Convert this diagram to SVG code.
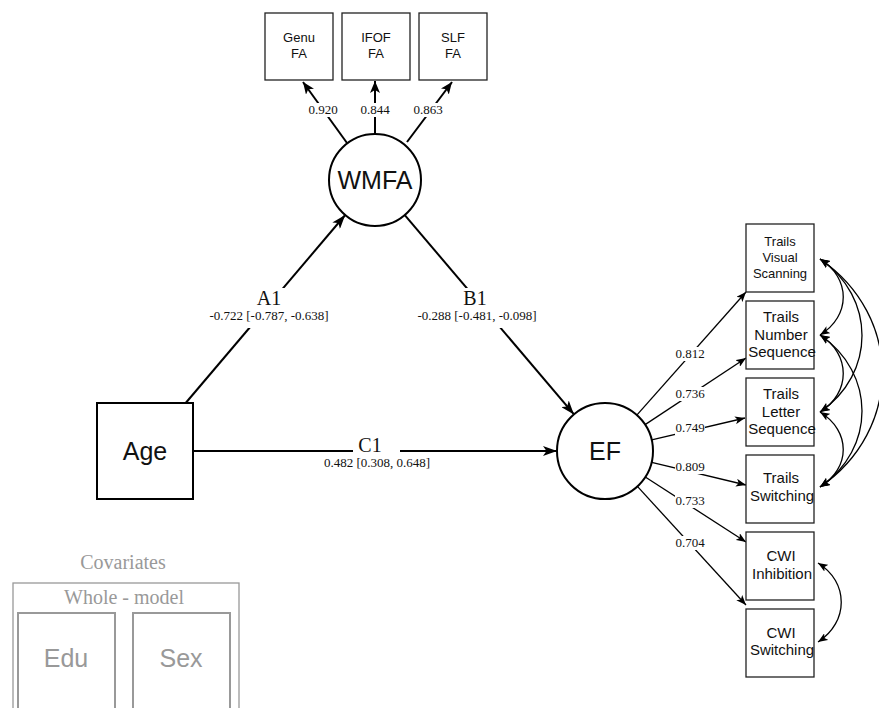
<svg xmlns="http://www.w3.org/2000/svg" width="879" height="708" viewBox="0 0 879 708">
  <style>
    .bg { fill: #fff; }
    .big { fill: #fff; stroke: #000; stroke-width: 2; }
    .obs { fill: #fff; stroke: #222; stroke-width: 1.3; }
    .cov { fill: #fff; stroke: #999; stroke-width: 2; }
    .covframe { fill: none; stroke: #999; stroke-width: 1.3; }
    .sans { font-family: "Liberation Sans", Arial, sans-serif; text-anchor: middle; fill: #111; }
    .serif { font-family: "Liberation Serif", "Times New Roman", serif; text-anchor: middle; fill: #111; }
    .lbl { font-size: 13px; }
    .path { font-size: 20px; }
    .grey { fill: #999; }
    .edge { fill: none; stroke: #000; }
    .main { stroke-width: 2; marker-end: url(#arrowL); }
    .load { stroke-width: 2; marker-end: url(#arrowM); }
    .ind { stroke-width: 1.3; marker-end: url(#arrowS); }
    .cor { stroke-width: 1.3; marker-start: url(#arrowS); marker-end: url(#arrowS); }
    .gap { fill: #fff; }
  </style>
  <defs>
    <marker id="arrowL" markerUnits="userSpaceOnUse" viewBox="0 0 14 10" refX="14" refY="5" markerWidth="14" markerHeight="10" orient="auto-start-reverse">
      <path d="M0,0 L14,5 L0,10 L3.5,5 z" fill="#000"/>
    </marker>
    <marker id="arrowM" markerUnits="userSpaceOnUse" viewBox="0 0 12 10" refX="12" refY="5" markerWidth="12" markerHeight="10" orient="auto-start-reverse">
      <path d="M0,0 L12,5 L0,10 L3,5 z" fill="#000"/>
    </marker>
    <marker id="arrowS" markerUnits="userSpaceOnUse" viewBox="0 0 10 8" refX="10" refY="4" markerWidth="10" markerHeight="8" orient="auto-start-reverse">
      <path d="M0,0 L10,4 L0,8 L2.5,4 z" fill="#000"/>
    </marker>
  </defs>

  <rect class="bg" x="0" y="0" width="879" height="708"/>

  <!-- connectors -->
  <g id="connectors">
    <!-- structural paths -->
    <path class="edge main" d="M185.7,403 L345.2,215"/>
    <path class="edge main" d="M404.8,215.1 L574,414.4"/>
    <path class="edge main" d="M193,451 L557,451"/>
    <!-- WMFA indicators -->
    <path class="edge load" d="M347,143 L303,82"/>
    <path class="edge load" d="M375,134 L375,81"/>
    <path class="edge load" d="M407,142 L452,82"/>
    <!-- EF indicators -->
    <path class="edge ind" d="M636.8,415.1 L746,292"/>
    <path class="edge ind" d="M645.1,424.6 L746,358"/>
    <path class="edge ind" d="M651.7,439.9 L745,418"/>
    <path class="edge ind" d="M651.7,462.3 L746,485"/>
    <path class="edge ind" d="M645.3,477 L746,542"/>
    <path class="edge ind" d="M637.4,486.4 L746,605"/>
    <!-- residual covariances -->
    <path class="edge cor" d="M820,259 C851,278 851,316 820,335"/>
    <path class="edge cor" d="M820,335 C851,354 851,393 820,412"/>
    <path class="edge cor" d="M820,412 C851,431 851,468 820,487"/>
    <path class="edge cor" d="M820,259 C876,297 876,374 820,412"/>
    <path class="edge cor" d="M820,335 C876,373 876,449 820,487"/>
    <path class="edge cor" d="M820,259 C903,316 903,430 820,487"/>
    <path class="edge cor" d="M818,563 C849,582 849,622 818,642"/>
  </g>

  <!-- connector labels -->
  <g id="edge-labels">
    <rect class="gap" x="207" y="288" width="124" height="40"/>
    <text class="serif path" x="269" y="305">A1</text>
    <text class="serif lbl" x="269" y="320">-0.722 [-0.787, -0.638]</text>

    <rect class="gap" x="415" y="288" width="124" height="40"/>
    <text class="serif path" x="475" y="305">B1</text>
    <text class="serif lbl" x="477" y="320">-0.288 [-0.481, -0.098]</text>

    <rect class="gap" x="353" y="443" width="47" height="15"/>
    <text class="serif path" x="370" y="452">C1</text>
    <text class="serif lbl" x="377" y="467">0.482 [0.308, 0.648]</text>

    <rect class="gap" x="308" y="103" width="30" height="14"/>
    <text class="serif lbl" x="323" y="114">0.920</text>
    <rect class="gap" x="360" y="103" width="30" height="14"/>
    <text class="serif lbl" x="375" y="114">0.844</text>
    <rect class="gap" x="413" y="103" width="30" height="14"/>
    <text class="serif lbl" x="428" y="114">0.863</text>

    <rect class="gap" x="675" y="347" width="30" height="14"/>
    <text class="serif lbl" x="690" y="358">0.812</text>
    <rect class="gap" x="675" y="387" width="30" height="14"/>
    <text class="serif lbl" x="690" y="398">0.736</text>
    <rect class="gap" x="675" y="421" width="30" height="14"/>
    <text class="serif lbl" x="690" y="432">0.749</text>
    <rect class="gap" x="675" y="460" width="30" height="14"/>
    <text class="serif lbl" x="690" y="471">0.809</text>
    <rect class="gap" x="675" y="494" width="30" height="14"/>
    <text class="serif lbl" x="690" y="505">0.733</text>
    <rect class="gap" x="675" y="536" width="30" height="14"/>
    <text class="serif lbl" x="690" y="547">0.704</text>
  </g>

  <!-- latent and observed nodes -->
  <g id="age">
    <rect class="big" x="97" y="403" width="96" height="96"/>
    <text class="sans" x="145" y="460" font-size="25">Age</text>
  </g>
  <g id="wmfa">
    <circle class="big" cx="375" cy="180" r="46"/>
    <text class="sans" x="375" y="189" font-size="25">WMFA</text>
  </g>
  <g id="ef">
    <circle class="big" cx="605" cy="451" r="48"/>
    <text class="sans" x="605" y="460" font-size="25">EF</text>
  </g>

  <g id="genu-fa">
    <rect class="obs" x="265" y="13" width="68" height="67"/>
    <text class="sans" x="299" y="41.5" font-size="13">Genu</text>
    <text class="sans" x="299" y="57.5" font-size="13">FA</text>
  </g>
  <g id="ifof-fa">
    <rect class="obs" x="342" y="13" width="68" height="67"/>
    <text class="sans" x="376" y="41.5" font-size="13">IFOF</text>
    <text class="sans" x="376" y="57.5" font-size="13">FA</text>
  </g>
  <g id="slf-fa">
    <rect class="obs" x="419" y="13" width="68" height="67"/>
    <text class="sans" x="453" y="41.5" font-size="13">SLF</text>
    <text class="sans" x="453" y="57.5" font-size="13">FA</text>
  </g>

  <g id="trails-visual-scanning">
    <rect class="obs" x="746" y="224" width="68" height="68"/>
    <text class="sans" x="780" y="245.5" font-size="13">Trails</text>
    <text class="sans" x="780" y="261.5" font-size="13">Visual</text>
    <text class="sans" x="780" y="277.5" font-size="13">Scanning</text>
  </g>
  <g id="trails-number-sequence">
    <rect class="obs" x="746" y="301" width="68" height="68"/>
    <text class="sans" x="781" y="322" font-size="15">Trails</text>
    <text class="sans" x="781" y="339.5" font-size="15">Number</text>
    <text class="sans" x="782" y="357" font-size="15">Sequence</text>
  </g>
  <g id="trails-letter-sequence">
    <rect class="obs" x="746" y="378" width="68" height="68"/>
    <text class="sans" x="781" y="399" font-size="15">Trails</text>
    <text class="sans" x="781" y="416.5" font-size="15">Letter</text>
    <text class="sans" x="782" y="434" font-size="15">Sequence</text>
  </g>
  <g id="trails-switching">
    <rect class="obs" x="746" y="455" width="68" height="68"/>
    <text class="sans" x="781" y="482.5" font-size="15">Trails</text>
    <text class="sans" x="782" y="500.5" font-size="15">Switching</text>
  </g>
  <g id="cwi-inhibition">
    <rect class="obs" x="746" y="532" width="68" height="68"/>
    <text class="sans" x="781" y="560.5" font-size="15">CWI</text>
    <text class="sans" x="782" y="578.5" font-size="15">Inhibition</text>
  </g>
  <g id="cwi-switching">
    <rect class="obs" x="746" y="609" width="68" height="68"/>
    <text class="sans" x="781" y="637.5" font-size="15">CWI</text>
    <text class="sans" x="782" y="654.5" font-size="15">Switching</text>
  </g>

  <!-- covariates panel -->
  <g id="covariates">
    <text class="serif grey" x="123" y="569" font-size="20">Covariates</text>
    <rect class="covframe" x="13" y="583" width="226" height="140"/>
    <text class="serif grey" x="124" y="604" font-size="20">Whole - model</text>
  </g>
  <g id="edu">
    <rect class="cov" x="18" y="613" width="97" height="110"/>
    <text class="sans grey" x="66" y="667" font-size="25">Edu</text>
  </g>
  <g id="sex">
    <rect class="cov" x="133" y="613" width="97" height="110"/>
    <text class="sans grey" x="181" y="667" font-size="25">Sex</text>
  </g>
</svg>
